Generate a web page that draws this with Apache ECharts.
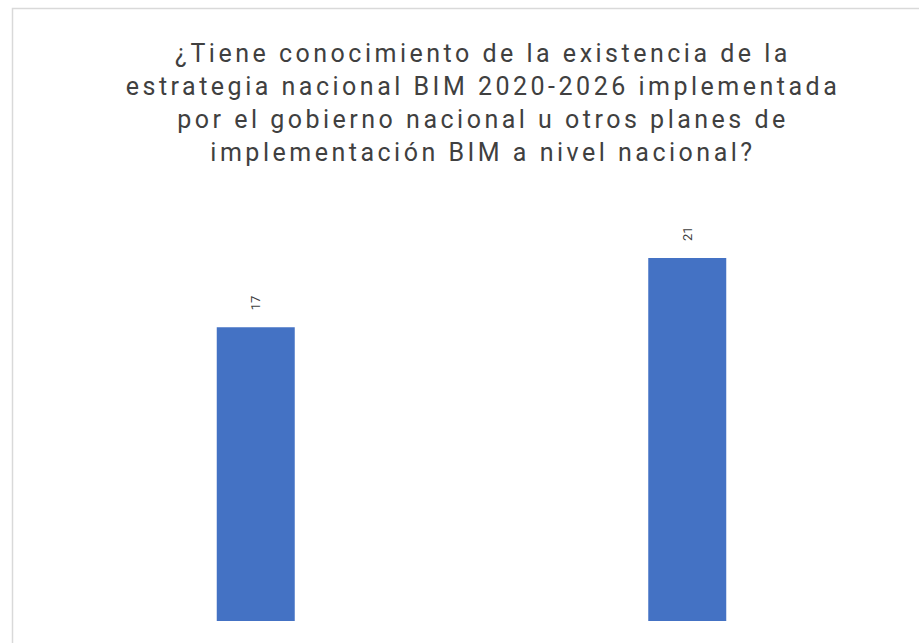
<!DOCTYPE html>
<html>
<head>
<meta charset="utf-8">
<script src="https://cdn.jsdelivr.net/npm/echarts@6/dist/echarts.min.js"></script>
<style>
  html, body { margin: 0; padding: 0; background: #fff; }
  #chart { width: 919px; height: 643px; }
  /* wide tracking for the title lines only */
  #chart text[style*="25px"] { letter-spacing: 3.5px; }
</style>
</head>
<body>
<div id="chart"></div>
<script>
// Survey question and answer counts
const titleText = '¿Tiene conocimiento de la existencia de la\nestrategia nacional BIM 2020-2026 implementada\npor el gobierno nacional u otros planes de\nimplementación BIM a nivel nacional?';
const categories = ['Sí', 'No'];
const counts = [17, 21];

const chart = echarts.init(document.getElementById('chart'), null, { renderer: 'svg' });

chart.setOption({
  animation: false,
  backgroundColor: '#ffffff',
  graphic: [{
    type: 'rect',
    left: 10,
    top: 6,
    shape: { width: 1000, height: 1000 },
    style: { fill: 'none', stroke: '#d9d9d9', lineWidth: 1.5 },
    silent: true,
    z: -1
  }],
  title: {
    text: titleText,
    left: 478,
    textAlign: 'center',
    top: 32,
    textStyle: {
      fontFamily: 'Roboto',
      fontWeight: 'normal',
      fontSize: 25,
      lineHeight: 33,
      color: '#404040'
    }
  },
  grid: { left: 40, right: 16, top: 189, bottom: 22, containLabel: false },
  xAxis: {
    type: 'category',
    data: categories,
    show: false
  },
  yAxis: {
    type: 'value',
    min: 0,
    max: 25,
    show: false,
    splitLine: { show: false }
  },
  series: [{
    type: 'bar',
    data: counts,
    barWidth: 78,
    itemStyle: { color: '#4472c4' },
    label: {
      show: true,
      position: 'top',
      rotate: 90,
      align: 'left',
      verticalAlign: 'middle',
      distance: 17,
      fontFamily: 'Roboto',
      fontSize: 13,
      color: '#404040'
    }
  }]
});
</script>
</body>
</html>
